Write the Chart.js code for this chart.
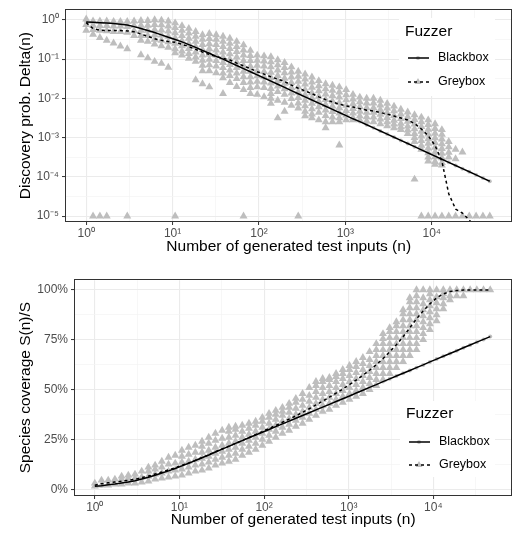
<!DOCTYPE html>
<html>
<head>
<meta charset="utf-8">
<script src="https://cdn.jsdelivr.net/npm/chart.js@4.4.1/dist/chart.umd.min.js"></script>
<style>
  html, body { margin: 0; padding: 0; background: #fff; }
  canvas { display: block; }
</style>
</head>
<body>
<canvas id="discovery" width="516" height="270"></canvas>
<canvas id="coverage" width="516" height="270"></canvas>
<script>
// number of generated test inputs at each sampling step
const testInputs = [1, 1.2, 1.44, 1.728, 2.074, 2.488, 2.986, 3.583, 4.3, 5.16,
  6.192, 7.43, 8.916, 10.7, 12.84, 15.41, 18.49, 22.19, 26.62, 31.95,
  38.34, 46, 55.2, 66.25, 79.5, 95.4, 114.5, 137.4, 164.8, 197.8,
  237.4, 284.8, 341.8, 410.2, 492.2, 590.7, 708.8, 850.6, 1020.7, 1224.8,
  1469.8, 1763.7, 2116.4, 2539.7, 3047.7, 3657.2, 4388.7, 5266.4, 6319.7, 7583.6,
  9100.4, 10920, 13105, 15725, 18871, 22645, 27174, 32608, 39130, 46956];

const fuzzers = ['Blackbox', 'Greybox'];

// top panel: discovery probability Delta(n), as log10 values
const discoveryBlackbox = [-0.05, -0.06, -0.07, -0.08, -0.09, -0.11, -0.13, -0.17, -0.22, -0.27,
  -0.32, -0.38, -0.44, -0.50, -0.56, -0.63, -0.70, -0.78, -0.85, -0.93,
  -1.00, -1.08, -1.16, -1.24, -1.32, -1.40, -1.48, -1.56, -1.64, -1.72,
  -1.80, -1.88, -1.96, -2.04, -2.12, -2.20, -2.28, -2.36, -2.44, -2.52,
  -2.59, -2.67, -2.75, -2.83, -2.91, -2.99, -3.07, -3.15, -3.23, -3.31,
  -3.39, -3.47, -3.55, -3.63, -3.71, -3.79, -3.87, -3.95, -4.03, -4.11];
const discoveryGreybox = [-0.07, -0.22, -0.26, -0.27, -0.27, -0.27, -0.28, -0.30, -0.36, -0.42,
  -0.48, -0.52, -0.55, -0.57, -0.62, -0.68, -0.75, -0.82, -0.88, -0.93,
  -0.98, -1.02, -1.10, -1.17, -1.24, -1.32, -1.38, -1.45, -1.51, -1.57,
  -1.66, -1.74, -1.81, -1.88, -1.96, -2.03, -2.09, -2.15, -2.19, -2.22,
  -2.26, -2.30, -2.32, -2.36, -2.40, -2.45, -2.50, -2.55, -2.64, -2.78,
  -2.95, -3.20, -3.60, -4.43, -4.82, -4.92, -5.10, -5.30, -5.50, -5.70];
// individual greybox runs (one list per sampling step; -5 marks runs at the floor 1e-5)
const discoveryGreyboxRuns = [
  [0.02, -0.12, -0.27],
  [-0.03, -0.14, -0.25, -0.37, -5],
  [-0.03, -0.15, -0.27, -0.45, -5],
  [-0.03, -0.15, -0.28, -0.52, -5],
  [-0.04, -0.16, -0.3, -0.59],
  [-0.04, -0.16, -0.3, -0.67],
  [-0.04, -0.17, -0.32, -0.74, -5],
  [-0.03, -0.15, -0.28, -0.4],
  [-0.02, -0.14, -0.27, -0.4, -0.52, -0.89],
  [-0.02, -0.14, -0.27, -0.4, -0.55, -0.97],
  [0.0, -0.12, -0.25, -0.38, -0.5, -0.62, -1.06],
  [-0.01, -0.13, -0.26, -0.39, -0.52, -0.66, -1.11],
  [-0.03, -0.16, -0.29, -0.42, -0.56, -0.7, -1.21],
  [-0.08, -0.2, -0.33, -0.46, -0.6, -0.74, -0.84, -5],
  [-0.15, -0.27, -0.4, -0.53, -0.66, -0.8, -0.9],
  [-0.22, -0.34, -0.47, -0.6, -0.73, -0.86, -0.98],
  [-0.3, -0.42, -0.55, -0.68, -0.82, -0.95, -1.06, -1.53],
  [-0.38, -0.5, -0.63, -0.76, -0.9, -1.03, -1.16, -1.3, -1.63],
  [-0.35, -0.48, -0.61, -0.74, -0.88, -1.01, -1.15, -1.3, -1.71],
  [-0.38, -0.5, -0.63, -0.77, -0.9, -1.04, -1.18, -1.35],
  [-0.42, -0.55, -0.68, -0.82, -0.95, -1.09, -1.22, -1.36, -1.48, -1.88],
  [-0.47, -0.6, -0.73, -0.87, -1.0, -1.14, -1.28, -1.42, -1.6],
  [-0.55, -0.68, -0.81, -0.95, -1.08, -1.22, -1.36, -1.5, -1.7],
  [-0.64, -0.77, -0.9, -1.04, -1.17, -1.31, -1.45, -1.6, -1.78, -5],
  [-0.78, -0.91, -1.04, -1.18, -1.31, -1.45, -1.59, -1.73, -1.88],
  [-0.9, -1.03, -1.16, -1.3, -1.43, -1.57, -1.71, -1.9],
  [-0.92, -1.05, -1.18, -1.32, -1.45, -1.59, -1.73, -1.96],
  [-0.94, -1.07, -1.2, -1.34, -1.47, -1.61, -1.75, -1.88, -2.0, -2.13],
  [-1.02, -1.15, -1.28, -1.42, -1.55, -1.69, -1.83, -2.05, -2.5],
  [-1.09, -1.22, -1.35, -1.49, -1.62, -1.76, -1.9, -2.1, -2.33],
  [-1.2, -1.33, -1.46, -1.6, -1.73, -1.87, -2.01, -2.18],
  [-1.31, -1.44, -1.57, -1.71, -1.84, -1.98, -2.12, -2.25, -5],
  [-1.38, -1.51, -1.64, -1.78, -1.91, -2.05, -2.19, -2.33, -2.45],
  [-1.46, -1.59, -1.72, -1.86, -1.99, -2.13, -2.27, -2.4, -2.5],
  [-1.55, -1.68, -1.81, -1.95, -2.08, -2.22, -2.36, -2.55],
  [-1.63, -1.76, -1.89, -2.03, -2.16, -2.3, -2.44, -2.6, -2.75],
  [-1.67, -1.8, -1.93, -2.07, -2.2, -2.34, -2.48, -2.6],
  [-1.71, -1.84, -1.97, -2.11, -2.24, -2.38, -2.5, -2.6, -3.19],
  [-1.78, -1.91, -2.04, -2.18, -2.31, -2.43, -2.55],
  [-1.9, -2.02, -2.14, -2.26, -2.38, -2.5, -2.55],
  [-1.97, -2.09, -2.21, -2.33, -2.45, -2.55],
  [-2.0, -2.12, -2.24, -2.36, -2.47, -2.58],
  [-2.0, -2.12, -2.24, -2.36, -2.48, -2.6],
  [-2.05, -2.17, -2.29, -2.41, -2.53, -2.65],
  [-2.13, -2.25, -2.37, -2.49, -2.6, -2.7],
  [-2.2, -2.32, -2.44, -2.56, -2.66, -2.75],
  [-2.28, -2.4, -2.52, -2.64, -2.73, -2.8],
  [-2.35, -2.47, -2.59, -2.71, -2.81, -2.9],
  [-2.42, -2.54, -2.66, -2.78, -2.9, -3.0, -3.1, -4.06],
  [-2.48, -2.6, -2.72, -2.84, -2.96, -3.08, -3.2, -3.3, -5],
  [-2.55, -2.67, -2.79, -2.91, -3.03, -3.15, -3.27, -3.39, -3.5, -3.6, -5],
  [-2.65, -2.77, -2.89, -3.01, -3.13, -3.25, -3.37, -3.49, -3.61, -3.68, -5],
  [-2.8, -2.92, -3.04, -3.16, -3.28, -3.4, -3.52, -3.64, -3.7, -5],
  [-3.1, -3.24, -3.38, -3.5, -5],
  [-3.3, -3.54, -5],
  [-3.37, -5],
  [-5], [-5], [-5], [-5]
];

// bottom panel: species coverage S(n)/S in percent
const coverageBlackbox = [1.5, 1.8, 2.2, 2.6, 3.1, 3.6, 4.3, 5.1, 6.0, 7.0,
  8.1, 9.2, 10.4, 11.7, 13.0, 14.4, 15.8, 17.2, 18.7, 20.1,
  21.5, 23.0, 24.4, 25.8, 27.2, 28.6, 30.0, 31.4, 32.8, 34.2,
  35.6, 37.0, 38.4, 39.8, 41.2, 42.6, 44.0, 45.4, 46.8, 48.3,
  49.7, 51.1, 52.5, 54.0, 55.4, 56.8, 58.2, 59.6, 61.0, 62.4,
  63.9, 65.3, 66.7, 68.1, 69.5, 71.0, 72.4, 73.8, 75.2, 76.6];
const coverageGreybox = [2.0, 2.8, 3.2, 3.6, 4.0, 4.5, 5.0, 5.8, 6.6, 7.6,
  8.6, 9.7, 10.8, 12.0, 13.2, 14.5, 15.9, 17.3, 18.8, 20.2,
  21.6, 23.0, 24.4, 25.9, 27.4, 28.9, 30.5, 32.0, 33.6, 35.2,
  36.8, 38.6, 40.4, 42.3, 44.2, 46.2, 48.2, 50.3, 52.5, 54.8,
  57.2, 59.7, 62.5, 65.5, 69.0, 72.5, 76.5, 81.0, 85.5, 89.5,
  93.0, 96.0, 98.0, 99.2, 99.7, 100, 100, 100, 100, 100];
const coverageGreyboxRuns = [
  [1.5, 3], [2, 4.5], [2, 4.5], [2.5, 5], [2.5, 5, 6.5],
  [3, 5.5, 7], [3, 5.5, 7.5], [3.5, 6, 9], [4, 6.5, 9, 11], [5, 7.5, 10, 12],
  [5.5, 8, 11, 14], [6, 9, 12.5, 16], [6.5, 9.5, 13, 17], [7, 10, 13.5, 16.5, 19.5], [8, 11, 14, 17.5, 21],
  [9, 12, 15, 18.5, 22], [9.5, 12.5, 15.5, 18.5, 21.5, 24], [10.5, 13.5, 16.5, 19.5, 23, 26],
  [12, 15, 18, 21, 24.5, 28], [13, 16, 19, 22, 25.5, 29.5],
  [14, 17, 20, 23, 26, 29, 31], [15, 18, 21, 24, 27, 30, 31.5], [17, 20, 23, 26, 29, 32],
  [18.5, 21.5, 24.5, 27.5, 30.5, 33], [20, 23, 26, 29, 32, 34],
  [22, 25, 28, 31, 34, 36], [24, 27, 30, 33, 36, 38], [26, 29, 32, 35, 37.5, 39.5],
  [28, 31, 34, 37, 39, 41], [29.5, 32.5, 35.5, 38.5, 41, 43],
  [31.5, 34.5, 37.5, 40.5, 43.5, 45.5], [33, 36, 39, 42, 45, 48], [35, 38, 41, 44, 47, 51],
  [37, 40, 43, 46, 49, 52, 54], [39, 42, 45, 48, 51, 54, 55.5],
  [40, 43, 46, 49, 52, 55, 56], [42, 45, 48, 51, 54, 56.5, 58], [43.5, 46.5, 49.5, 52.5, 55.5, 58, 60],
  [45, 48, 51, 54, 57, 60, 62], [46.5, 49.5, 52.5, 55.5, 58.5, 61.5, 64],
  [48, 51, 54, 57, 60, 63, 66], [50, 53, 56, 59, 62, 65, 69], [52, 55, 58, 61, 64, 67, 70, 73],
  [55, 58, 61, 64, 67, 70, 73, 75.5, 78], [58, 61, 64, 67, 70, 73, 76, 79, 81],
  [61, 64, 67, 70, 73, 76, 79, 82, 84], [64, 67, 70, 73, 76, 79, 82, 85, 88, 90],
  [67, 70, 73, 76, 79, 82, 85, 88, 91, 94, 96], [70, 73, 76, 79, 82, 85, 88, 91, 94, 97, 100],
  [75, 78, 81, 84, 87, 90, 93, 96, 100], [80, 83, 86, 89, 92, 95, 98, 100],
  [84.5, 87.5, 90.5, 93.5, 96.5, 100], [90.5, 93, 96, 98, 100], [95, 97, 100],
  [97, 100], [97, 100], [100], [100], [100], [100]
];

// axis ticks
const xTickValues = [1, 10, 100, 1000, 10000];
const xTickLabels = ['10\u2070', '10\u00b9', '10\u00b2', '10\u00b3', '10\u2074'];
const discoveryTickValues = [1e-5, 1e-4, 1e-3, 1e-2, 1e-1, 1];
const discoveryTickLabels = ['10\u207b\u2075', '10\u207b\u2074', '10\u207b\u00b3', '10\u207b\u00b2', '10\u207b\u00b9', '10\u2070'];
const coverageTickValues = [0, 25, 50, 75, 100];
const coverageTickLabels = ['0%', '25%', '50%', '75%', '100%'];

const FONT = '"Liberation Sans", Arial, Helvetica, sans-serif';
const GREY = '#bebebe';

// major ticks plus ggplot-style minor gridlines half way between them
function setTicks(scale, values, log) {
  const all = values.map(v => ({ value: v }));
  const n = values.length;
  for (let i = 0; i < n - 1; i++) {
    const a = values[i], b = values[i + 1];
    all.push({ value: log ? Math.sqrt(a * b) : (a + b) / 2, minor: true });
  }
  const a = values[n - 2], b = values[n - 1];
  all.push({ value: log ? b * Math.sqrt(b / a) : b + (b - a) / 2, minor: true });
  const c = values[0], d = values[1];
  all.push({ value: log ? c / Math.sqrt(d / c) : c - (d - c) / 2, minor: true });
  scale.ticks = all.filter(t => t.value >= scale.min && t.value <= scale.max)
    .sort((p, q) => p.value - q.value);
}

function tickLabel(values, labels) {
  return function (value, index, ticks) {
    if (ticks[index].minor) return '';
    const i = values.indexOf(value);
    return i < 0 ? '' : labels[i];
  };
}

const gridOpts = {
  color: c => (c.tick && c.tick.minor ? '#f3f3f3' : '#ebebeb'),
  lineWidth: c => (c.tick && c.tick.minor ? 0.7 : 1.1),
  tickColor: c => (c.tick && c.tick.minor ? 'rgba(0,0,0,0)' : '#333333'),
  tickWidth: 1,
  tickLength: 4
};

const panelBorder = {
  id: 'panelBorder',
  afterDatasetsDraw(chart) {
    const { ctx, chartArea: a } = chart;
    ctx.save();
    ctx.strokeStyle = '#333333';
    ctx.lineWidth = 1;
    ctx.strokeRect(Math.round(a.left) - 0.5, Math.round(a.top) - 0.5,
      Math.round(a.right - a.left) + 1, Math.round(a.bottom - a.top) + 1);
    ctx.restore();
  }
};

function legendPlugin(box) {
  return {
    id: 'fuzzerLegend',
    afterDraw(chart) {
      const ctx = chart.ctx;
      ctx.save();
      ctx.fillStyle = '#fff';
      ctx.fillRect(box.x, box.y, box.w, box.h);
      ctx.fillStyle = '#000';
      ctx.textBaseline = 'middle';
      ctx.font = '15.5px ' + FONT;
      ctx.fillText('Fuzzer', box.x + 6, box.titleY);
      fuzzers.forEach((name, i) => {
        const y = box.rowY[i];
        const cx = box.x + 19;
        ctx.fillStyle = GREY;
        ctx.beginPath();
        if (i === 0) {
          ctx.arc(cx, y, 2, 0, Math.PI * 2);
        } else {
          ctx.moveTo(cx, y - 4);
          ctx.lineTo(cx + 3.46, y + 2);
          ctx.lineTo(cx - 3.46, y + 2);
          ctx.closePath();
        }
        ctx.fill();
        ctx.strokeStyle = '#000';
        ctx.lineWidth = 1.5;
        ctx.setLineDash(i === 0 ? [] : [3, 3]);
        ctx.beginPath();
        ctx.moveTo(box.x + 9, y);
        ctx.lineTo(box.x + 30, y);
        ctx.stroke();
        ctx.setLineDash([]);
        ctx.fillStyle = '#000';
        ctx.font = '12.5px ' + FONT;
        ctx.fillText(name, box.x + 39, y);
      });
      ctx.restore();
    }
  };
}

function points(values, conv) {
  return testInputs.map((n, i) => ({ x: n, y: conv(values[i]) }));
}
function runPoints(runs, conv) {
  const out = [];
  runs.forEach((col, i) => col.forEach(v => out.push({ x: testInputs[i], y: conv(v) })));
  return out;
}

function buildDatasets(black, grey, runs, conv) {
  return [
    { label: fuzzers[0], data: points(black, conv), showLine: true, borderColor: '#000',
      borderWidth: 1.5, pointRadius: 0, order: 0 },
    { label: fuzzers[1], data: points(grey, conv), showLine: true, borderColor: '#000',
      borderWidth: 1.5, borderDash: [3, 3], pointRadius: 0, order: 0 },
    { label: fuzzers[0] + ' runs', data: points(black, conv), pointStyle: 'circle', pointRadius: 2,
      backgroundColor: GREY, borderWidth: 0, pointBorderWidth: 0, order: 1 },
    { label: fuzzers[1] + ' runs', data: runPoints(runs, conv), pointStyle: 'triangle', pointRadius: 4.6,
      backgroundColor: GREY, borderWidth: 0, pointBorderWidth: 0, order: 2 }
  ];
}

function xScale(axisHeight, titlePad) {
  return {
    type: 'logarithmic',
    bounds: 'data',
    min: Math.pow(10, -0.234),
    max: Math.pow(10, 4.922),
    afterBuildTicks: s => setTicks(s, xTickValues, true),
    afterFit: s => { s.height = axisHeight; },
    ticks: { autoSkip: false, maxRotation: 0, padding: 1, color: '#4d4d4d',
      font: { family: FONT, size: 12 }, callback: tickLabel(xTickValues, xTickLabels) },
    title: { display: true, text: 'Number of generated test inputs (n)', color: '#000',
      font: { family: FONT, size: 15.5 }, padding: { top: 0, bottom: titlePad } },
    grid: gridOpts,
    border: { display: false }
  };
}

const toLog = v => Math.pow(10, v);
const same = v => v;

new Chart(document.getElementById('discovery'), {
  type: 'scatter',
  data: { datasets: buildDatasets(discoveryBlackbox, discoveryGreybox, discoveryGreyboxRuns, toLog) },
  options: {
    responsive: false,
    animation: false,
    devicePixelRatio: 1,
    layout: { padding: { top: 4, right: 3, left: 0, bottom: 0 } },
    plugins: { legend: { display: false }, tooltip: { enabled: false } },
    scales: {
      x: xScale(49, 14),
      y: {
        type: 'logarithmic',
        bounds: 'data',
        min: Math.pow(10, -5.124),
        max: Math.pow(10, 0.248),
        afterBuildTicks: s => setTicks(s, discoveryTickValues, true),
        afterFit: s => { s.width = 66; },
        ticks: { autoSkip: false, padding: 3, color: '#4d4d4d',
          font: { family: FONT, size: 12 }, callback: tickLabel(discoveryTickValues, discoveryTickLabels) },
        title: { display: true, text: 'Discovery prob. Delta(n)', color: '#000',
          font: { family: FONT, size: 15.5 }, padding: { top: 16, bottom: 0 } },
        grid: gridOpts,
        border: { display: false }
      }
    }
  },
  plugins: [panelBorder, legendPlugin({ x: 399, y: 18, w: 96, h: 78, titleY: 32, rowY: [58, 82] })]
});

new Chart(document.getElementById('coverage'), {
  type: 'scatter',
  data: { datasets: buildDatasets(coverageBlackbox, coverageGreybox, coverageGreyboxRuns, same) },
  options: {
    responsive: false,
    animation: false,
    devicePixelRatio: 1,
    layout: { padding: { top: 9, right: 3, left: 0, bottom: 0 } },
    plugins: { legend: { display: false }, tooltip: { enabled: false } },
    scales: {
      x: xScale(45, 11),
      y: {
        type: 'linear',
        bounds: 'data',
        min: -2.9,
        max: 104.9,
        afterBuildTicks: s => setTicks(s, coverageTickValues, false),
        afterFit: s => { s.width = 75; },
        ticks: { autoSkip: false, padding: 3, color: '#4d4d4d',
          font: { family: FONT, size: 12 }, callback: tickLabel(coverageTickValues, coverageTickLabels) },
        title: { display: true, text: 'Species coverage S(n)/S', color: '#000',
          font: { family: FONT, size: 15.5 }, padding: { top: 16, bottom: 0 } },
        grid: gridOpts,
        border: { display: false }
      }
    }
  },
  plugins: [panelBorder, legendPlugin({ x: 400, y: 131, w: 95, h: 76, titleY: 144, rowY: [172, 195] })]
});
</script>
</body>
</html>
